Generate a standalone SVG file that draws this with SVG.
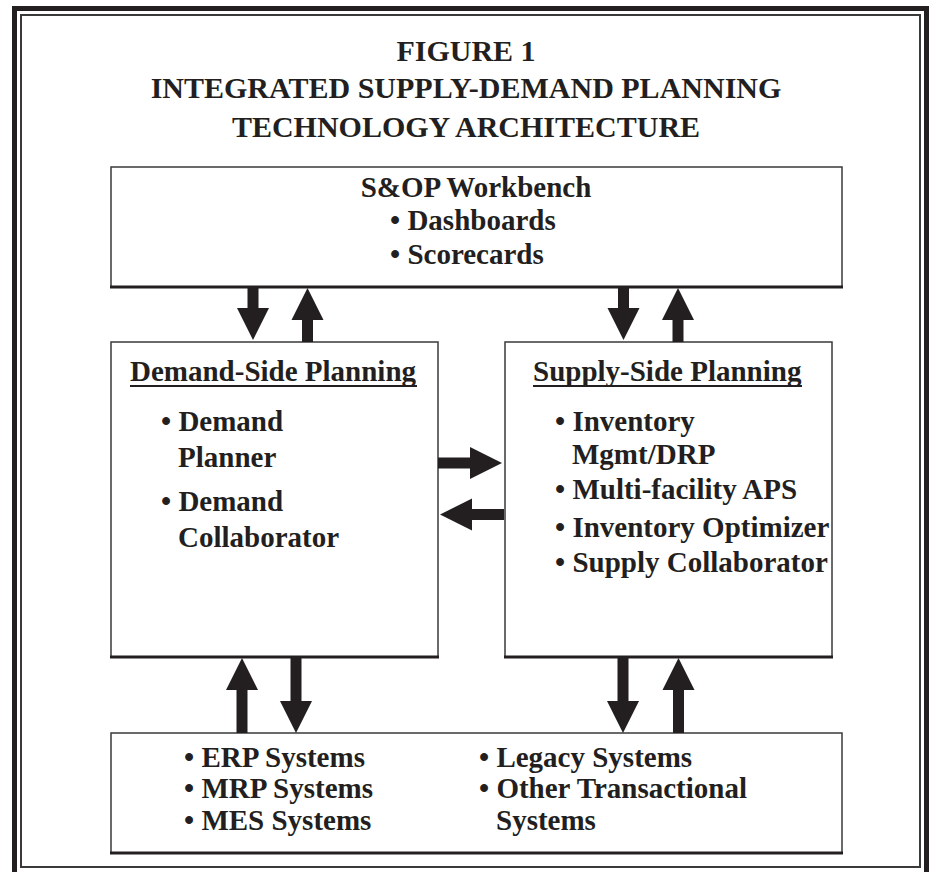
<svg xmlns="http://www.w3.org/2000/svg" width="931" height="872" viewBox="0 0 931 872">
<style>
text{font-family:"Liberation Serif","Times New Roman",serif;font-weight:bold;fill:#231f20}
.t{font-size:30px;text-anchor:middle}
.b{font-size:29px}
.c{text-anchor:middle}
.box{fill:#fff;stroke:#3a3a3a;stroke-width:1.5}
.edge{stroke:#231f20;stroke-width:2.8}
.arr{fill:#231f20;stroke:none}
.ul{stroke:#231f20;stroke-width:2}
</style>
<rect x="0" y="0" width="931" height="872" fill="#fff"/>
<rect x="14.5" y="8.5" width="912" height="880" fill="none" stroke="#231f20" stroke-width="5"/>
<rect x="21" y="15" width="899" height="852" fill="none" stroke="#3a3a3a" stroke-width="2"/>
<g id="title">
<text class="t" x="466" y="61">FIGURE 1</text>
<text class="t" x="466" y="98">INTEGRATED SUPPLY-DEMAND PLANNING</text>
<text class="t" x="466" y="137">TECHNOLOGY ARCHITECTURE</text>
</g>
<g id="sop">
<rect class="box" x="111" y="167" width="731" height="120"/>
<line class="edge" x1="110" y1="287" x2="843" y2="287"/>
<text class="b c" x="476" y="197">S&amp;OP Workbench</text>
<text class="b" x="390" y="230">• Dashboards</text>
<text class="b" x="390" y="264">• Scorecards</text>
</g>
<g id="demand">
<rect class="box" x="111" y="342" width="327" height="315"/>
<line class="edge" x1="110" y1="657" x2="439" y2="657"/>
<text class="b" x="130" y="381">Demand-Side Planning</text>
<line class="ul" x1="130" y1="386" x2="417" y2="386"/>
<text class="b" x="161" y="431">• Demand</text>
<text class="b" x="178" y="467">Planner</text>
<text class="b" x="161" y="511">• Demand</text>
<text class="b" x="178" y="547">Collaborator</text>
</g>
<g id="supply">
<rect class="box" x="505" y="342" width="327" height="315"/>
<line class="edge" x1="504" y1="657" x2="833" y2="657"/>
<text class="b" x="533" y="381">Supply-Side Planning</text>
<line class="ul" x1="533" y1="386" x2="802" y2="386"/>
<text class="b" x="555" y="431">• Inventory</text>
<text class="b" x="572" y="464">Mgmt/DRP</text>
<text class="b" x="555" y="499">• Multi-facility APS</text>
<text class="b" x="555" y="537">• Inventory Optimizer</text>
<text class="b" x="555" y="572">• Supply Collaborator</text>
</g>
<g id="systems">
<rect class="box" x="111" y="733" width="731" height="120"/>
<line class="edge" x1="110" y1="853" x2="843" y2="853"/>
<text class="b" x="184" y="767">• ERP Systems</text>
<text class="b" x="184" y="798">• MRP Systems</text>
<text class="b" x="184" y="830">• MES Systems</text>
<text class="b" x="479" y="767">• Legacy Systems</text>
<text class="b" x="479" y="798">• Other Transactional</text>
<text class="b" x="496" y="830">Systems</text>
</g>
<g id="connectors">
<polygon class="arr" points="247.5,287 258.5,287 258.5,308 269,308 253,340 237,308 247.5,308"/>
<polygon class="arr" points="302,342 313,342 313,320 323.5,320 307.5,288 291.5,320 302,320"/>
<polygon class="arr" points="618,287 629,287 629,308 639.5,308 623.5,340 607.5,308 618,308"/>
<polygon class="arr" points="672.5,342 683.5,342 683.5,320 694,320 678,288 662,320 672.5,320"/>
<polygon class="arr" points="236.5,733 247.5,733 247.5,690 258,690 242,658 226,690 236.5,690"/>
<polygon class="arr" points="290.5,657 301.5,657 301.5,701 312,701 296,733 280,701 290.5,701"/>
<polygon class="arr" points="617.5,657 628.5,657 628.5,701 639,701 623,733 607,701 617.5,701"/>
<polygon class="arr" points="673,733 684,733 684,690 694.5,690 678.5,658 662.5,690 673,690"/>
<polygon class="arr" points="438,457.5 470,457.5 470,447 502,463 470,479 470,468.5 438,468.5"/>
<polygon class="arr" points="504,509 472,509 472,498.5 440,514.5 472,530.5 472,520 504,520"/>
</g>
</svg>
